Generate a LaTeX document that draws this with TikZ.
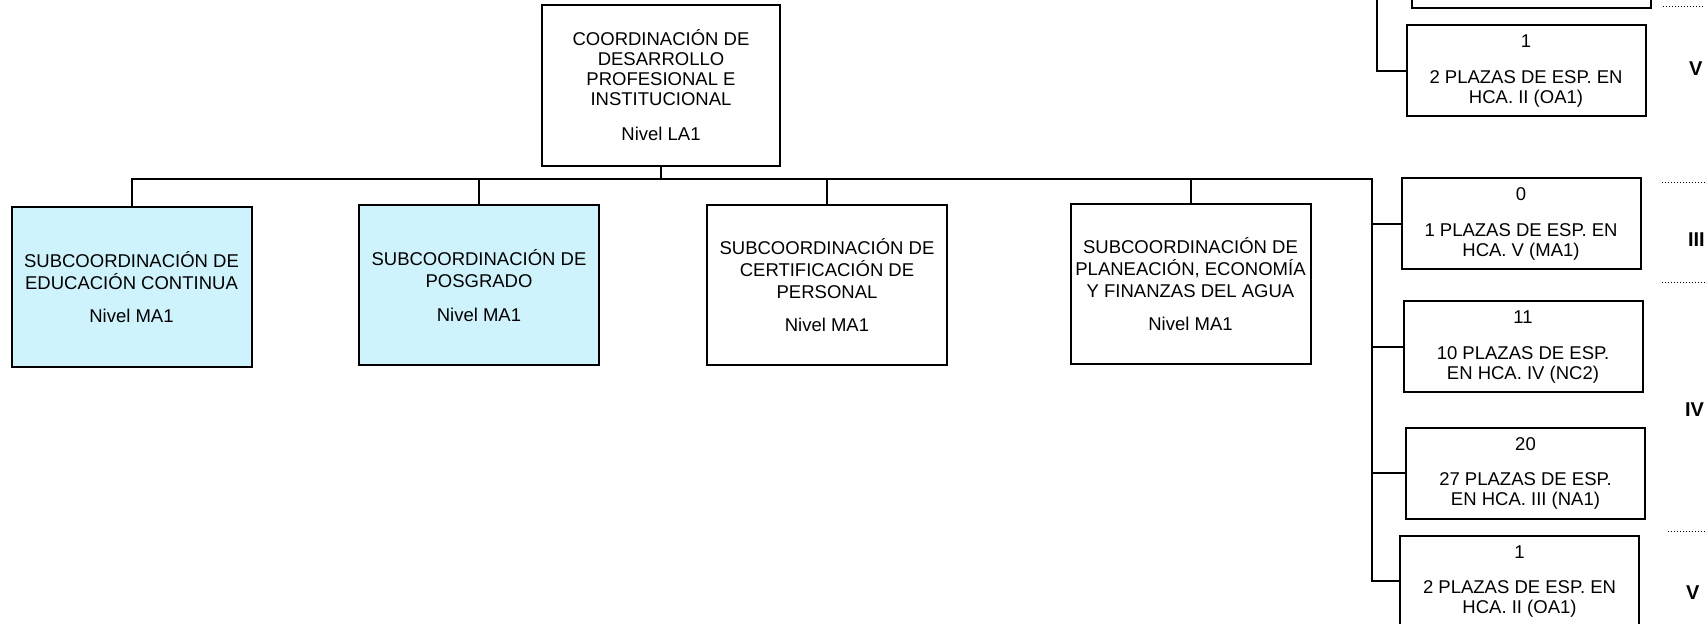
\documentclass[tikz,border=0pt]{standalone}
\usepackage{fontspec}
\setmainfont{Liberation Sans}
\definecolor{subblue}{RGB}{206,243,252}

\begin{document}
\begin{tikzpicture}
[x=0.5pt, y=-0.5pt, line width=1pt,
    unit/.style={draw, align=center, inner sep=0pt, font=\fontsize{9.25}{10}\selectfont},
    head unit/.style={unit, minimum width=119pt, minimum height=80.5pt},
    sub unit/.style={unit, minimum width=120pt, minimum height=80pt, font=\fontsize{9.25}{11}\selectfont},
    post unit/.style={unit, minimum width=119.5pt, minimum height=45.5pt, font=\fontsize{9.25}{10}\selectfont},
    level line/.style={line width=0.5pt, densely dotted},
    level label/.style={anchor=west, inner sep=0pt, font=\fontsize{10}{10}\selectfont\bfseries}]
\useasboundingbox (0,0) rectangle (1705,624);
\clip (0,0) rectangle (1705,624);
\node [head unit] (coord) at (661,85.5) {COORDINACIÓN DE\\DESARROLLO\\PROFESIONAL E\\INSTITUCIONAL\\[7.5pt]Nivel LA1};
\node [sub unit, fill=subblue] (educ) at (131.5,287) {SUBCOORDINACIÓN DE\\EDUCACIÓN CONTINUA\\[5.75pt]Nivel MA1};
\node [sub unit, fill=subblue] (posg) at (479,285.5) {SUBCOORDINACIÓN DE\\POSGRADO\\[5.75pt]Nivel MA1};
\node [sub unit] (cert) at (827,285) {SUBCOORDINACIÓN DE\\CERTIFICACIÓN DE\\PERSONAL\\[5.75pt]Nivel MA1};
\node [sub unit] (plan) at (1190.5,284) {SUBCOORDINACIÓN DE\\PLANEACIÓN, ECONOMÍA\\Y FINANZAS DEL AGUA\\[5.75pt]Nivel MA1};
\node [post unit] (hcav) at (1521,224) {0\\[7.75pt]1 PLAZAS DE ESP. EN\\HCA. V (MA1)};
\node [post unit] (hcaiv) at (1523,347) {11\\[7.75pt]10 PLAZAS DE ESP.\\EN HCA. IV (NC2)};
\node [post unit] (hcaiii) at (1525.5,473.5) {20\\[7.75pt]27 PLAZAS DE ESP.\\EN HCA. III (NA1)};
\node [post unit] (hcaii) at (1519.5,581.5) {1\\[7.75pt]2 PLAZAS DE ESP. EN\\HCA. II (OA1)};
\node [post unit] (topi) at (1531.5,-37) {};
\node [post unit] (topii) at (1526,71) {1\\[7.75pt]2 PLAZAS DE ESP. EN\\HCA. II (OA1)};
\coordinate (trunk) at (1372,179);
\coordinate (toptrunk) at (1377,-10);
\draw (coord.south) -- (coord.south |- trunk);
\draw (educ.north) |- (trunk) -- (trunk |- hcaii.west) -- (hcaii.west);
\foreach \n in {posg,cert,plan}
    \draw (\n.north) -- (\n.north |- trunk);
\foreach \n in {hcav,hcaiv,hcaiii}
    \draw (trunk |- \n.west) -- (\n.west);
\draw (toptrunk) |- (topii.west);
\foreach \y/\x in {7/1663,183/1662,283/1662,532/1668}
    \draw [level line] (\x,\y) -- (1705,\y);
\node [level label] (lvtop) at (1688,69) {V};
\node [level label] (lviii) at (1687,240) {III};
\node [level label] (lviv) at (1684,410) {IV};
\node [level label] (lvv) at (1685,593) {V};
\end{tikzpicture}
\end{document}
